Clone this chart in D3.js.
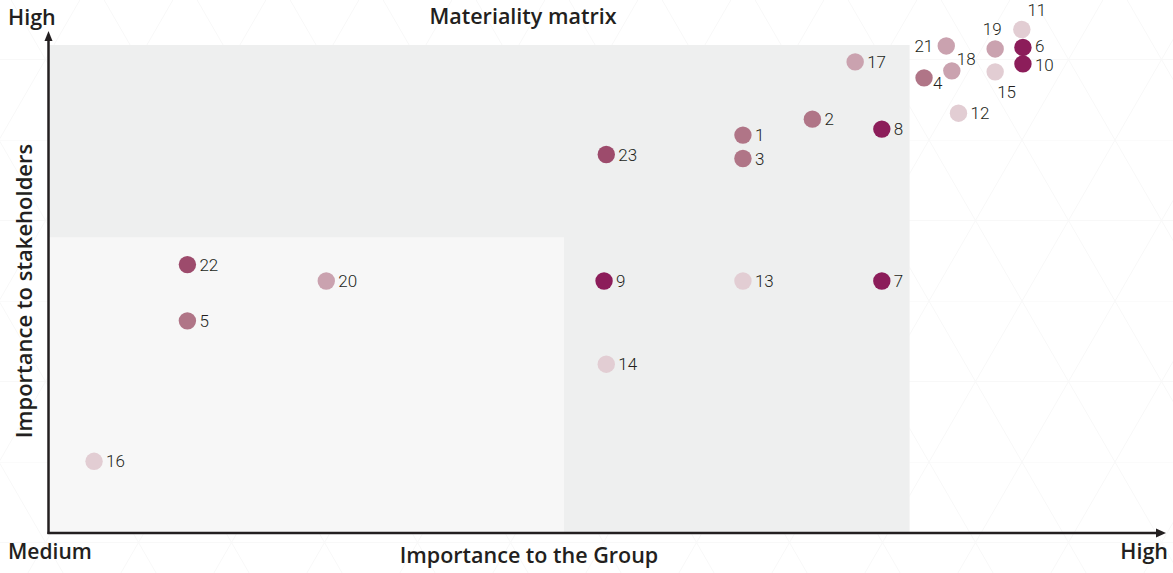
<!DOCTYPE html>
<html>
<head>
<meta charset="utf-8">
<script src="https://cdn.jsdelivr.net/npm/d3@7"></script>
<style>
  body { margin: 0; background: #fff; }
  .lbl { font-family: Roboto, "Liberation Sans", sans-serif; font-weight: 300; font-size: 17px; fill: #231f20; }
  .ttl { font-family: "Open Sans", sans-serif; font-weight: 600; fill: #231f20; }
</style>
</head>
<body>
<div id="chart"></div>
<script>

// topic numbers, position on the two axes (0-100), and colour tier
var topics = [1, 2, 3, 4, 5, 6, 7, 8, 9, 10, 11, 12, 13, 14, 15, 16, 17, 18, 19, 20, 21, 22, 23];
var groupImportance = [62.5, 68.75, 62.5, 78.8, 12.5, 87.7, 75, 75, 50, 87.7, 87.6, 81.9, 62.5, 50.2, 85.2, 4.1, 72.6, 81.3, 85.2, 25, 80.8, 12.5, 50.2];
var stakeholderImportance = [79.9, 83.1, 75.2, 91.4, 42.6, 97.5, 50.6, 81.1, 50.6, 94.2, 101.1, 84.3, 50.6, 33.9, 92.6, 14.4, 94.6, 92.8, 97.2, 50.6, 97.8, 53.9, 76.0];
var tiers = [2, 2, 2, 2, 2, 0, 0, 0, 0, 0, 4, 4, 4, 4, 4, 4, 3, 3, 3, 3, 3, 1, 1];

// shaded zones (upper bounds on each axis)
var zoneGroup = [46.4, 77.5];
var zoneStakeholder = [59.4, 98];

var tierColors = ["#8c1d5a", "#9d4b6c", "#b07587", "#caa2af", "#e2cdd3"];
var zoneColors = ["#f7f7f7", "#eeefef"];

// labels that do not sit on the right of their dot
var labelPlace = {
    11: {dx: 15, dy: -14, anchor: "middle"},
    19: {dx: -3, dy: -14, anchor: "middle"},
    21: {dx: -13, dy: 6, anchor: "end"},
    18: {dx: 5, dy: -6, anchor: "start"},
    4: {dx: 9, dy: 11, anchor: "start"},
    15: {dx: 2, dy: 26, anchor: "start"},
    6: {dx: 12, dy: 5, anchor: "start"},
    10: {dx: 12, dy: 7, anchor: "start"}
};

var points = topics.map(function (t, i) {
    return {id: t, gx: groupImportance[i], sy: stakeholderImportance[i], tier: tiers[i]};
});

var width = 1173, height = 573;

var x = d3.scaleLinear().domain([0, 100]).range([48.5, 1159.6]);
var y = d3.scaleLinear().domain([0, 100]).range([533, 35]);

var svg = d3.select("#chart").append("svg")
    .attr("width", width)
    .attr("height", height);

// faint triangle lattice behind everything
var s = 93, h = 80.5;
var pat = svg.append("defs").append("pattern")
    .attr("id", "tri")
    .attr("patternUnits", "userSpaceOnUse")
    .attr("x", 929).attr("y", 140)
    .attr("width", s).attr("height", 2 * h);
pat.append("path")
    .attr("d", "M0,0H" + s + "M0," + h + "H" + s + "M0,0L" + s + "," + (2 * h) + "M" + s + ",0L0," + (2 * h))
    .attr("stroke", "#f8f8f8")
    .attr("stroke-width", 1)
    .attr("fill", "none");
svg.append("rect").attr("width", width).attr("height", height).attr("fill", "url(#tri)");

// zones: the bigger one first
var zones = [
    {gx: zoneGroup[1], sy: zoneStakeholder[1], c: zoneColors[1]},
    {gx: zoneGroup[0], sy: zoneStakeholder[0], c: zoneColors[0]}
];
svg.append("g").selectAll("rect")
    .data(zones)
    .enter().append("rect")
    .attr("x", x(0))
    .attr("y", function (d) { return y(d.sy); })
    .attr("width", function (d) { return x(d.gx) - x(0); })
    .attr("height", function (d) { return y(0) - y(d.sy); })
    .attr("fill", function (d) { return d.c; });

// axes with arrow heads
var axisColor = "#231f20";
svg.append("line")
    .attr("x1", x(0)).attr("y1", y(0) + 1)
    .attr("x2", x(0)).attr("y2", 40)
    .attr("stroke", axisColor).attr("stroke-width", 2.5);
svg.append("line")
    .attr("x1", x(0) - 1).attr("y1", y(0))
    .attr("x2", 1158).attr("y2", y(0))
    .attr("stroke", axisColor).attr("stroke-width", 2.5);
svg.append("path")
    .attr("d", "M" + x(0) + ",31L" + (x(0) + 4) + ",41L" + (x(0) - 4) + ",41Z")
    .attr("fill", axisColor);
svg.append("path")
    .attr("d", "M1166," + y(0) + "L1156," + (y(0) - 4.5) + "L1156," + (y(0) + 4.5) + "Z")
    .attr("fill", axisColor);

// dots
var dots = svg.append("g").selectAll("g")
    .data(points)
    .enter().append("g")
    .attr("transform", function (d) { return "translate(" + x(d.gx) + "," + y(d.sy) + ")"; });

dots.append("circle")
    .attr("r", 8.7)
    .attr("fill", function (d) { return tierColors[d.tier]; });

dots.append("text")
    .attr("class", "lbl")
    .attr("x", function (d) { return labelPlace[d.id] ? labelPlace[d.id].dx : 12; })
    .attr("y", function (d) { return labelPlace[d.id] ? labelPlace[d.id].dy : 6; })
    .attr("text-anchor", function (d) { return labelPlace[d.id] ? labelPlace[d.id].anchor : "start"; })
    .text(function (d) { return d.id; });

// titles
svg.append("text").attr("class", "ttl")
    .attr("x", 523).attr("y", 24)
    .attr("text-anchor", "middle")
    .style("font-size", "21.5px")
    .text("Materiality matrix");
svg.append("text").attr("class", "ttl")
    .attr("x", 8).attr("y", 25)
    .style("font-size", "21.5px")
    .text("High");
svg.append("text").attr("class", "ttl")
    .attr("x", 8).attr("y", 559)
    .style("font-size", "21px")
    .text("Medium");
svg.append("text").attr("class", "ttl")
    .attr("x", 1168).attr("y", 559)
    .attr("text-anchor", "end")
    .style("font-size", "21.5px")
    .text("High");
svg.append("text").attr("class", "ttl")
    .attr("x", 529).attr("y", 563)
    .attr("text-anchor", "middle")
    .style("font-size", "21.5px")
    .text("Importance to the Group");
svg.append("text").attr("class", "ttl")
    .attr("transform", "translate(32,291) rotate(-90)")
    .attr("text-anchor", "middle")
    .style("font-size", "22px")
    .text("Importance to stakeholders");

</script>
</body>
</html>
